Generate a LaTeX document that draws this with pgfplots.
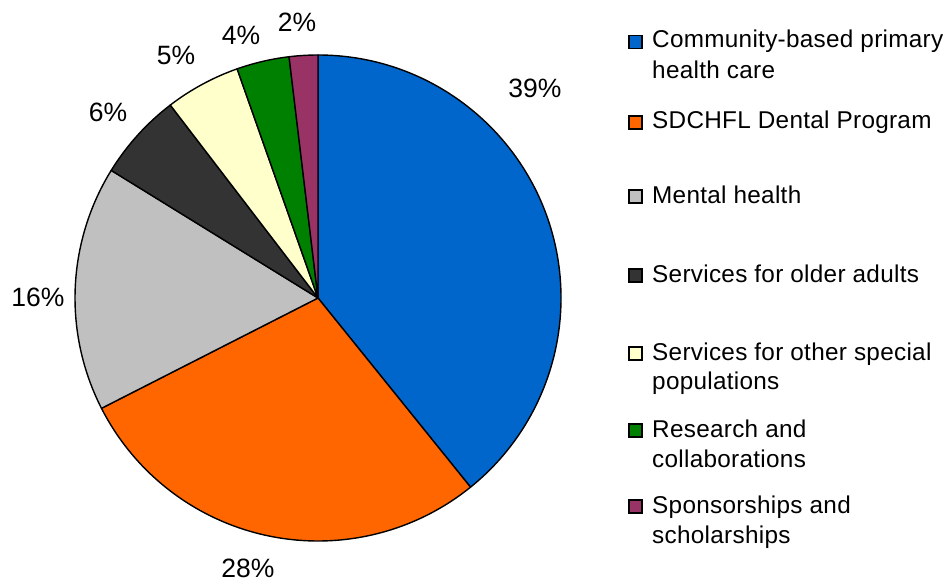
\documentclass[border=0pt]{standalone}
\usepackage{pgfplots}
\pgfplotsset{compat=1.18}
\usepackage{fontspec}
\setmainfont{Liberation Sans}
\newfontfamily\legfont[LetterSpace=1.2]{Liberation Sans}
\definecolor{cBlue}{HTML}{0066CC}
\definecolor{cOrange}{HTML}{FF6600}
\definecolor{cGray}{HTML}{C0C0C0}
\definecolor{cDark}{HTML}{333333}
\definecolor{cCream}{HTML}{FFFFCC}
\definecolor{cGreen}{HTML}{008000}
\definecolor{cPurple}{HTML}{993366}
\begin{document}
\begin{tikzpicture}
% shares (percent)
\def\vA{39.2}\def\vB{28.3}\def\vC{16.3}\def\vD{5.8}\def\vE{5.0}\def\vF{3.5}\def\vG{1.9}
\pgfmathsetmacro\aA{90}
\pgfmathsetmacro\aB{\aA-\vA*3.6}
\pgfmathsetmacro\aC{\aB-\vB*3.6}
\pgfmathsetmacro\aD{\aC-\vC*3.6}
\pgfmathsetmacro\aE{\aD-\vD*3.6}
\pgfmathsetmacro\aF{\aE-\vE*3.6}
\pgfmathsetmacro\aG{\aF-\vF*3.6}
\pgfmathsetmacro\aH{\aG-\vG*3.6}
\begin{axis}[hide axis, scale only axis, width=949pt, height=582pt,
  xmin=0, xmax=949, ymin=0, ymax=582, clip=false]
\path (axis cs:0,0) rectangle (axis cs:949,582);
\tikzset{slice/.style={draw=black, line width=1.4pt, line join=round}}
\filldraw[slice, fill=cBlue]   (axis cs:318,284) -- ++(\aA:243pt) arc[start angle=\aA, end angle=\aB, radius=243pt] -- cycle;
\filldraw[slice, fill=cOrange] (axis cs:318,284) -- ++(\aB:243pt) arc[start angle=\aB, end angle=\aC, radius=243pt] -- cycle;
\filldraw[slice, fill=cGray]   (axis cs:318,284) -- ++(\aC:243pt) arc[start angle=\aC, end angle=\aD, radius=243pt] -- cycle;
\filldraw[slice, fill=cDark]   (axis cs:318,284) -- ++(\aD:243pt) arc[start angle=\aD, end angle=\aE, radius=243pt] -- cycle;
\filldraw[slice, fill=cCream]  (axis cs:318,284) -- ++(\aE:243pt) arc[start angle=\aE, end angle=\aF, radius=243pt] -- cycle;
\filldraw[slice, fill=cGreen]  (axis cs:318,284) -- ++(\aF:243pt) arc[start angle=\aF, end angle=\aG, radius=243pt] -- cycle;
\filldraw[slice, fill=cPurple] (axis cs:318,284) -- ++(\aG:243pt) arc[start angle=\aG, end angle=\aH, radius=243pt] -- cycle;
% percentage labels
\tikzset{pl/.style={inner sep=0pt, font=\fontsize{26.5}{30}\selectfont}}
\node[pl] at (axis cs:535,494) {39\%};
\node[pl] at (axis cs:248,14) {28\%};
\node[pl] at (axis cs:38,285) {16\%};
\node[pl] at (axis cs:108,470) {6\%};
\node[pl] at (axis cs:176,527) {5\%};
\node[pl] at (axis cs:241,547) {4\%};
\node[pl] at (axis cs:297,560) {2\%};
% legend
\tikzset{lt/.style={inner sep=0pt, anchor=base west, font=\legfont\fontsize{24.3}{29}\selectfont},
  lk/.style={draw=black, line width=1.3pt, minimum size=13pt, inner sep=0pt}}
\node[lk, fill=cBlue]   at (axis cs:635.5,540) {};
\node[lt] at (axis cs:652,534) {Community-based primary};
\node[lt] at (axis cs:652,503) {health care};
\node[lk, fill=cOrange] at (axis cs:635.5,459.5) {};
\node[lt] at (axis cs:652,453) {SDCHFL Dental Program};
\node[lk, fill=cGray]   at (axis cs:635.5,385.5) {};
\node[lt] at (axis cs:652,379) {Mental health};
\node[lk, fill=cDark]   at (axis cs:635.5,306.5) {};
\node[lt] at (axis cs:652,300) {Services for older adults};
\node[lk, fill=cCream]  at (axis cs:635.5,228.5) {};
\node[lt] at (axis cs:652,222) {Services for other special};
\node[lt] at (axis cs:652,193) {populations};
\node[lk, fill=cGreen]  at (axis cs:635.5,151.5) {};
\node[lt] at (axis cs:652,145) {Research and};
\node[lt] at (axis cs:652,115) {collaborations};
\node[lk, fill=cPurple] at (axis cs:635.5,75.5) {};
\node[lt] at (axis cs:652,69) {Sponsorships and};
\node[lt] at (axis cs:652,39) {scholarships};
\end{axis}
\end{tikzpicture}
\end{document}
